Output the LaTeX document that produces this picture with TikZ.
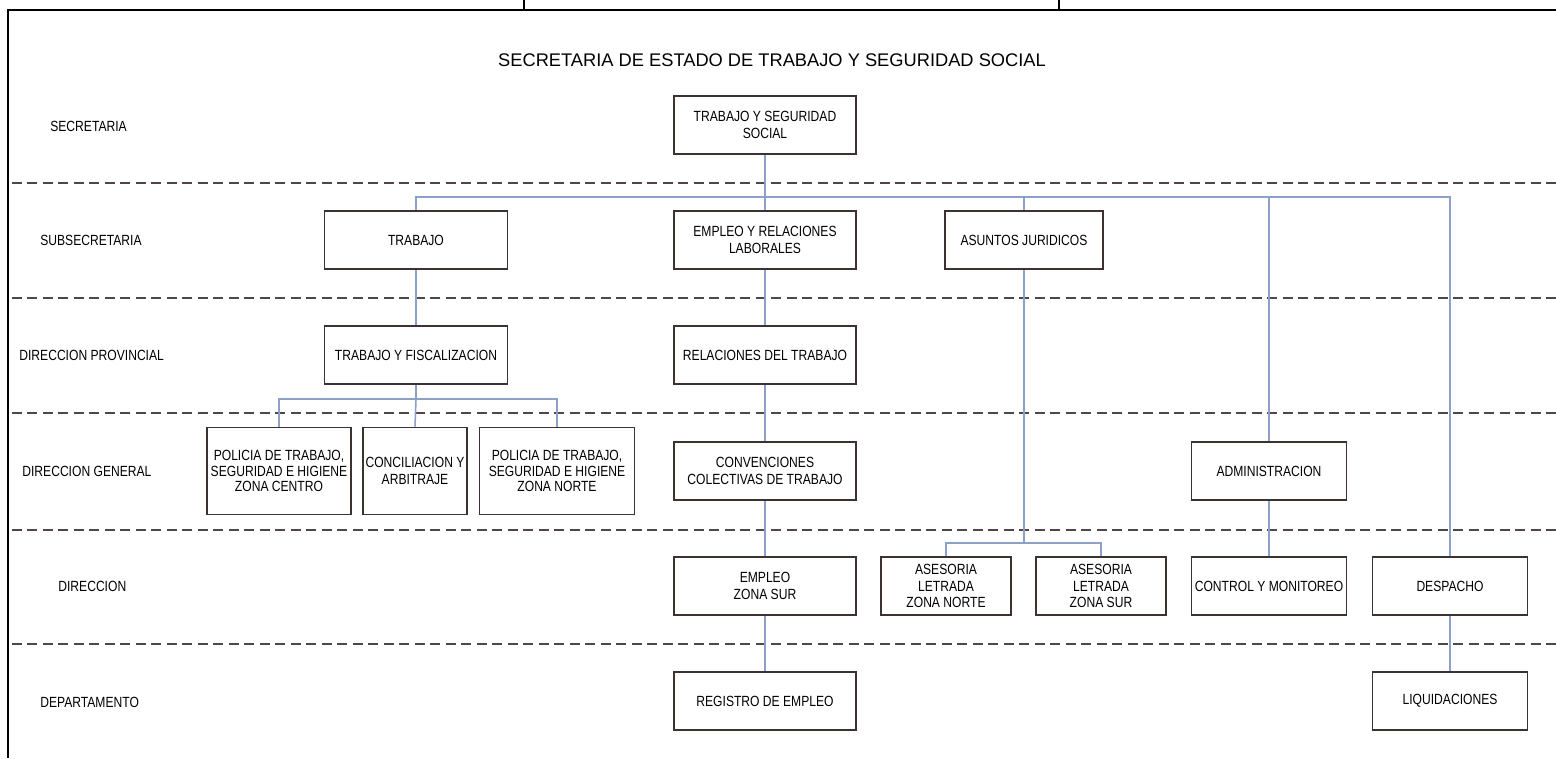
\documentclass[tikz,border=0pt]{standalone}
\usepackage{fontspec}
\setmainfont{Liberation Sans}
\newfontfamily\narrowfont[FakeStretch=0.82]{Liberation Sans}
\usepackage{tikz}
\usetikzlibrary{calc}
\newcommand*{\cwd }{182}
\newcommand*{\swd }{155}
\newcommand*{\bht }{58}
\definecolor{linkblue}{RGB}{140,160,200}
\definecolor{boxline}{RGB}{60,50,50}
\definecolor{dashgray}{RGB}{80,70,70}

\begin{document}
\begin{tikzpicture}[x=0.02cm, y=-0.02cm,
        unit/.style = {draw=boxline, line width=1.1pt, fill=white, align=center,
                       minimum height=\bht*0.02cm, inner sep=1pt,
                       font=\narrowfont\fontsize{8.4}{9.6}\selectfont},
        level/.style = {anchor=west, inner sep=0pt, font=\narrowfont\fontsize{8.4}{9.6}\selectfont},
        link/.style = {draw=linkblue, line width=0.9pt},
        band/.style = {draw=dashgray, line width=0.9pt, dash pattern=on 0.2cm off 0.11cm}]
    \useasboundingbox (0,0) rectangle (1556,758);
    % frame
    \draw [line width=1.2pt] (8,758) -- (8,10) -- (1556,10);
    \draw [line width=1pt] (524,0) -- (524,10);
    \draw [line width=1pt] (1059,0) -- (1059,10);
    \node [font=\fontsize{10.4}{12}\selectfont] (title) at (772,60) {SECRETARIA DE ESTADO DE TRABAJO Y SEGURIDAD SOCIAL};
    % levels
    \foreach \yy in {183,298,413,530,644}
        \draw [band] (12,\yy) -- (1556,\yy);
    \node [level] (lsec)  at (50,126) {SECRETARIA};
    \node [level] (lsub)  at (40,240) {SUBSECRETARIA};
    \node [level] (ldp)   at (19,355) {DIRECCION PROVINCIAL};
    \node [level] (ldg)   at (22,471) {DIRECCION GENERAL};
    \node [level] (ldir)  at (58,586) {DIRECCION};
    \node [level] (ldep)  at (40,702) {DEPARTAMENTO};
    % units
    \node [unit, minimum width=\cwd*0.02cm] (sec) at (765,125) {TRABAJO Y SEGURIDAD\\SOCIAL};
    \node [unit, minimum width=183*0.02cm] (subTrab) at (416,240) {TRABAJO};
    \node [unit, minimum width=\cwd*0.02cm] (subEmp) at (765,240) {EMPLEO Y RELACIONES\\LABORALES};
    \node [unit, minimum width=158*0.02cm] (subJur) at (1024,240) {ASUNTOS JURIDICOS};
    \node [unit, minimum width=183*0.02cm] (dpTrab) at (416,355) {TRABAJO Y FISCALIZACION};
    \node [unit, minimum width=\cwd*0.02cm] (dpRel) at (765,355) {RELACIONES DEL TRABAJO};
    \node [unit, minimum width=144*0.02cm, minimum height=87*0.02cm, font=\narrowfont\fontsize{8.4}{8.8}\selectfont] (dgCentro) at (279,471) {POLICIA DE TRABAJO,\\SEGURIDAD E HIGIENE\\ZONA CENTRO};
    \node [unit, minimum width=104*0.02cm, minimum height=87*0.02cm] (dgConc) at (415,471) {CONCILIACION Y\\ARBITRAJE};
    \node [unit, minimum width=\swd*0.02cm, minimum height=87*0.02cm, font=\narrowfont\fontsize{8.4}{8.8}\selectfont] (dgNorte) at (557,471) {POLICIA DE TRABAJO,\\SEGURIDAD E HIGIENE\\ZONA NORTE};
    \node [unit, minimum width=\cwd*0.02cm] (dgConv) at (765,471) {CONVENCIONES\\COLECTIVAS DE TRABAJO};
    \node [unit, minimum width=\swd*0.02cm] (dgAdm) at (1269,471) {ADMINISTRACION};
    \node [unit, minimum width=\cwd*0.02cm] (dEmp) at (765,586) {EMPLEO\\ZONA SUR};
    \node [unit, minimum width=130*0.02cm] (dAseN) at (946,586) {ASESORIA\\LETRADA\\ZONA NORTE};
    \node [unit, minimum width=130*0.02cm] (dAseS) at (1101,586) {ASESORIA\\LETRADA\\ZONA SUR};
    \node [unit, minimum width=\swd*0.02cm] (dCtrl) at (1269,586) {CONTROL Y MONITOREO};
    \node [unit, minimum width=\swd*0.02cm] (dDesp) at (1450,586) {DESPACHO};
    \node [unit, minimum width=\cwd*0.02cm] (depReg) at (765,701) {REGISTRO DE EMPLEO};
    \node [unit, minimum width=\swd*0.02cm] (depLiq) at (1450,701) {LIQUIDACIONES};
    % links
    \coordinate (bus) at (0,197);
    \coordinate (fisbus) at (0,399);
    \coordinate (jurbus) at (0,543);
    \draw [link] (sec.south) -- (sec.south |- bus) -| (subTrab.north);
    \draw [link] (sec.south |- bus) -| (dDesp.north);
    \foreach \nd in {subEmp,subJur,dgAdm}
        \draw [link] (\nd.north |- bus) -- (\nd.north);
    \draw [link] (subTrab) -- (dpTrab);
    \draw [link] (dpTrab.south) -- (dpTrab.south |- fisbus) -| (dgCentro.north);
    \draw [link] (dpTrab.south |- fisbus) -| (dgNorte.north);
    \draw [link] (dpTrab.south |- fisbus) -- (dgConc.north);
    \draw [link] (subEmp) -- (dpRel);
    \draw [link] (dpRel) -- (dgConv);
    \draw [link] (dgConv) -- (dEmp);
    \draw [link] (dEmp) -- (depReg);
    \draw [link] (subJur.south) -- (subJur.south |- jurbus) -| (dAseN.north);
    \draw [link] (subJur.south |- jurbus) -| (dAseS.north);
    \draw [link] (dgAdm) -- (dCtrl);
    \draw [link] (dDesp) -- (depLiq);
\end{tikzpicture}
\end{document}
